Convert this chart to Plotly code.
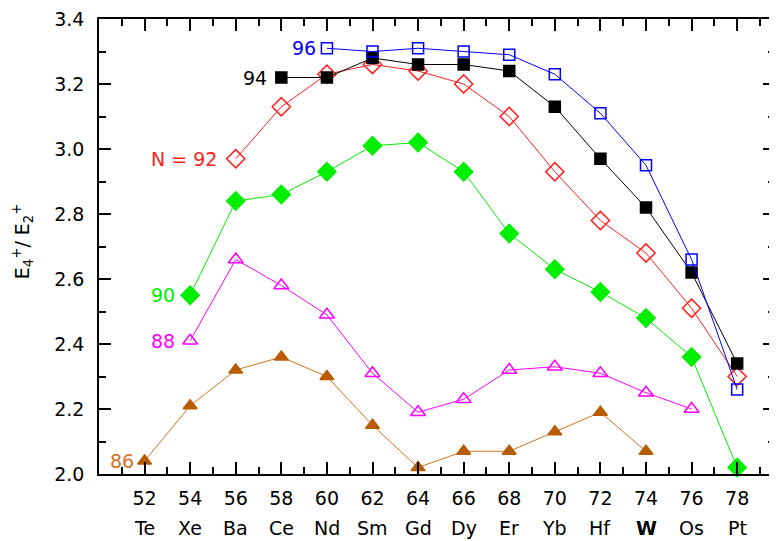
import plotly.graph_objects as go

Z = [52, 54, 56, 58, 60, 62, 64, 66, 68, 70, 72, 74, 76, 78]
elements = ["Te", "Xe", "Ba", "Ce", "Nd", "Sm", "Gd", "Dy", "Er", "Yb", "Hf", "<b>W</b>", "Os", "Pt"]

z96 = [60, 62, 64, 66, 68, 70, 72, 74, 76, 78]
n96 = [3.31, 3.30, 3.31, 3.30, 3.29, 3.23, 3.11, 2.95, 2.66, 2.26]

z94 = [58, 60, 62, 64, 66, 68, 70, 72, 74, 76, 78]
n94 = [3.22, 3.22, 3.28, 3.26, 3.26, 3.24, 3.13, 2.97, 2.82, 2.62, 2.34]

z92 = [56, 58, 60, 62, 64, 66, 68, 70, 72, 74, 76, 78]
n92 = [2.97, 3.13, 3.23, 3.26, 3.24, 3.20, 3.10, 2.93, 2.78, 2.68, 2.51, 2.30]

z90 = [54, 56, 58, 60, 62, 64, 66, 68, 70, 72, 74, 76, 78]
n90 = [2.55, 2.84, 2.86, 2.93, 3.01, 3.02, 2.93, 2.74, 2.63, 2.56, 2.48, 2.36, 2.02]

z88 = [54, 56, 58, 60, 62, 64, 66, 68, 70, 72, 74, 76]
n88 = [2.41, 2.66, 2.58, 2.49, 2.31, 2.19, 2.23, 2.32, 2.33, 2.31, 2.25, 2.20]

z86 = [52, 54, 56, 58, 60, 62, 64, 66, 68, 70, 72, 74]
n86 = [2.04, 2.21, 2.32, 2.36, 2.30, 2.15, 2.02, 2.07, 2.07, 2.13, 2.19, 2.07]

FONT = "DejaVu Sans, Liberation Sans, Arial, sans-serif"
FS = 19

series = [
    # x, y, label, line color, marker symbol, marker fill, marker line color, size, label xshift
    (z86, n86, "86", "#d2741e", "triangle-up", "#b85c00", "#b85c00", 12, -9),
    (z88, n88, "88", "#ff00ff", "triangle-up-open", "#ff00ff", "#ff00ff", 13, -13),
    (z90, n90, "90", "#00ee00", "diamond", "#00ee00", "#00ee00", 14, -13),
    (z92, n92, "N = 92", "#ff2020", "diamond-open", "#ff2020", "#ff2020", 14, -17),
    (z94, n94, "94", "#000000", "square", "#000000", "#000000", 11, -12),
    (z96, n96, "96", "#0000ff", "square-open", "#0000ff", "#0000ff", 11, -9),
]

fig = go.Figure()
annotations = []
for xs, ys, lab, lc, sym, mfc, mlc, sz, xs_shift in series:
    fig.add_trace(go.Scatter(
        x=xs, y=ys, mode="lines+markers",
        line=dict(color=lc, width=1),
        marker=dict(symbol=sym, size=sz, color=mfc,
                    line=dict(color=mlc, width=1.5)),
        showlegend=False, cliponaxis=False,
    ))
    annotations.append(dict(
        x=xs[0], y=ys[0], xref="x", yref="y", text=lab, showarrow=False,
        xanchor="right", yanchor="middle", xshift=xs_shift,
        font=dict(family=FONT, size=FS, color=lc),
    ))

for z, el in zip(Z, elements):
    annotations.append(dict(
        x=z, y=-0.118, xref="x", yref="paper", text=el, showarrow=False,
        xanchor="center", yanchor="middle",
        font=dict(family=FONT, size=FS, color="#000000"),
    ))

annotations.append(dict(
    x=-0.1136, y=0.512, xref="paper", yref="paper",
    text="E<sub>4</sub><sup>+</sup>/ E<sub>2</sub><sup>+</sup>",
    showarrow=False, textangle=-90, xanchor="center", yanchor="middle",
    font=dict(family=FONT, size=19, color="#000000"),
))

fig.update_layout(
    width=769, height=533,
    margin=dict(l=91, r=0, t=9, b=67),
    plot_bgcolor="white", paper_bgcolor="white",
    font=dict(family=FONT, size=FS, color="#000000"),
    annotations=annotations,
)
fig.update_xaxes(
    range=[50, 79.66], tickvals=Z, ticktext=[str(z) for z in Z],
    ticks="inside", ticklen=12, tickwidth=1.5, tickcolor="black",
    minor=dict(dtick=1, tick0=50, ticks="inside", ticklen=7, tickwidth=1.5, tickcolor="black"),
    showline=True, linecolor="black", linewidth=1.5, mirror="allticks",
    showgrid=False, zeroline=False, ticklabelstandoff=6,
    tickfont=dict(family=FONT, size=FS),
)
fig.update_yaxes(
    range=[2.0, 3.4], tickvals=[2.0, 2.2, 2.4, 2.6, 2.8, 3.0, 3.2, 3.4],
    ticktext=["2.0", "2.2", "2.4", "2.6", "2.8", "3.0", "3.2", "3.4"],
    ticks="inside", ticklen=12, tickwidth=1.5, tickcolor="black",
    minor=dict(dtick=0.1, tick0=2.0, ticks="inside", ticklen=7, tickwidth=1.5, tickcolor="black"),
    showline=True, linecolor="black", linewidth=1.5, mirror="allticks",
    showgrid=False, zeroline=False, ticklabelstandoff=9,
    ticklabeloverflow="allow",
    tickfont=dict(family=FONT, size=FS),
)

fig.write_html("out.html")
